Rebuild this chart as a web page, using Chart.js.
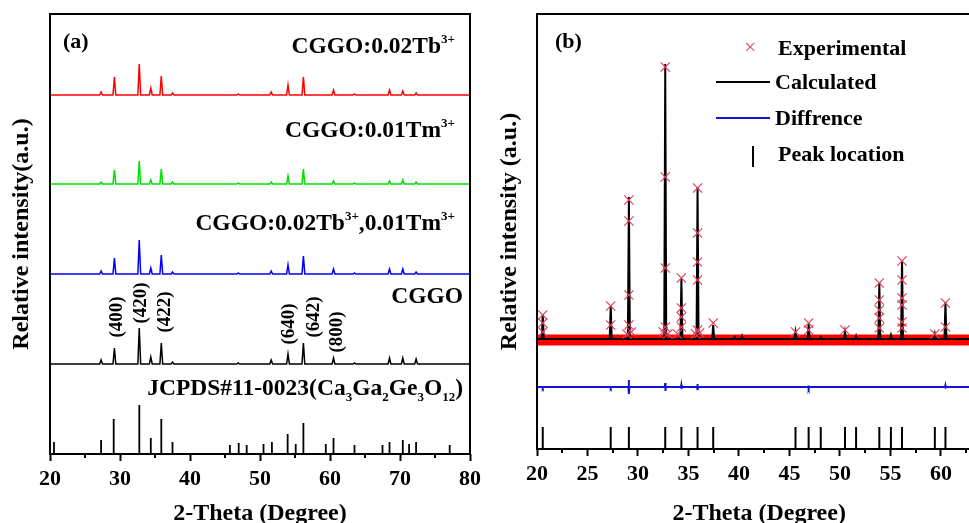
<!DOCTYPE html>
<html>
<head>
<meta charset="utf-8">
<script src="https://cdn.jsdelivr.net/npm/chart.js@4.4.0/dist/chart.umd.min.js"></script>
<style>
html, body { margin: 0; padding: 0; background: #fff; overflow: hidden; }
#wrap { position: relative; width: 969px; height: 523px; overflow: hidden;
        font-family: "Liberation Serif", "Times New Roman", serif; font-weight: bold; color: #000; }
canvas { position: absolute; top: 0; }
#ca { left: 0; }
#cb { left: 485px; }
.t { position: absolute; white-space: nowrap; font-size: 23.5px; line-height: 23px; }
.sp { font-size: 13px; position: relative; top: -10px; }
.sb { font-size: 13px; position: relative; top: 6px; }
.hkl { position: absolute; white-space: nowrap; font-size: 19px; line-height: 19px;
       transform: translate(-50%, -50%) rotate(-90deg); }
.lg { position: absolute; white-space: nowrap; font-size: 22px; line-height: 22px; }
</style>
</head>
<body>
<div id="wrap">
    <canvas id="ca" width="485" height="526"></canvas>
    <canvas id="cb" width="504" height="526"></canvas>

    <div class="t" style="left:63px;top:30px;font-size:22px;line-height:22px">(a)</div>
    <div class="t" style="right:514px;top:34px">CGGO:0.02Tb<span class="sp">3+</span></div>
    <div class="t" style="right:514px;top:118px">CGGO:0.01Tm<span class="sp">3+</span></div>
    <div class="t" style="right:514px;top:211px">CGGO:0.02Tb<span class="sp">3+</span>,0.01Tm<span class="sp">3+</span></div>
    <div class="t" style="right:506px;top:284px">CGGO</div>
    <div class="t" style="right:506px;top:376px">JCPDS#11-0023(Ca<span class="sb">3</span>Ga<span class="sb">2</span>Ge<span class="sb">3</span>O<span class="sb">12</span>)</div>

    <div class="hkl" style="left:115px;top:317px">(400)</div>
    <div class="hkl" style="left:139px;top:303px">(420)</div>
    <div class="hkl" style="left:163px;top:312px">(422)</div>
    <div class="hkl" style="left:287px;top:324px">(640)</div>
    <div class="hkl" style="left:312px;top:317px">(642)</div>
    <div class="hkl" style="left:335px;top:332px">(800)</div>

    <div class="lg" style="left:555px;top:30px">(b)</div>
    <div class="lg" style="left:744px;top:36px;font-weight:normal;color:#d9546a">×</div>
    <div class="lg" style="left:778px;top:37px">Experimental</div>
    <div style="position:absolute;left:716px;top:81px;width:54px;border-top:2px solid #000"></div>
    <div class="lg" style="left:775px;top:71px">Calculated</div>
    <div style="position:absolute;left:716px;top:117px;width:54px;border-top:2px solid #1414d8"></div>
    <div class="lg" style="left:775px;top:107px">Diffrence</div>
    <div style="position:absolute;left:752px;top:146px;width:2px;height:21px;background:#000"></div>
    <div class="lg" style="left:778px;top:143px">Peak location</div>
</div>
<script>
// ---- panel (a): measured patterns, 2-theta peak positions and heights
const peakPos = [20.6, 27.3, 29.2, 32.75, 34.4, 35.9, 37.5, 46.9, 51.6, 54.0, 56.2, 60.5, 63.5, 68.5, 70.4, 72.3];
const tbH     = [0, 3, 18, 31, 7, 19, 2, 1, 3, 10, 18, 5, 1, 5, 4, 2];
const tmH     = [0, 2, 14, 23, 4, 15, 2, 1, 2, 8, 15, 3, 1, 3, 4, 2];
const tbtmH   = [0, 3, 16, 34, 6, 19, 2, 1, 3, 9, 18, 5, 1, 5, 5, 2];
const cggoH   = [0, 4, 16, 36, 7, 21, 2, 1, 4, 10, 21, 6, 1, 6, 6, 5];
const stackBase = [359, 270, 180, 90];   // Tb, Tm, Tb+Tm, CGGO

// JCPDS#11-0023 reference lines
const jcpdsPos = [20.57, 27.3, 29.1, 32.76, 34.4, 35.9, 37.5, 45.7, 46.96, 48.1, 50.5, 51.7, 53.95, 55.1, 56.2, 59.4, 60.5, 63.5, 67.5, 68.5, 70.4, 71.3, 72.3, 77.1];
const jcpdsH   = [12, 14, 35, 49, 16, 35, 12, 9, 11, 9, 10, 12, 20, 10, 31, 10, 16, 9, 9, 12, 14, 10, 12, 9];

const xTicksA = [20, 30, 40, 50, 60, 70, 80];
const minorA  = [25, 35, 45, 55, 65, 75];

// ---- panel (b): Rietveld refinement
const calcPos = [20.57, 27.3, 29.1, 32.7, 34.3, 35.9, 37.45, 39.6, 40.3, 45.6, 46.9, 48.1, 50.5, 51.6, 53.9, 55.05, 56.15, 59.4, 60.45, 63.5];
const calcH   = [25, 33, 142, 275, 60, 152, 14, 2, 3, 7, 15, 2, 7, 3, 57, 4, 79, 5, 37, 5];

const expX = [20.57, 20.57, 20.57, 27.3, 27.3, 28.9, 29.1, 29.1, 29.1, 29.1, 29.35,
              32.5, 32.7, 32.7, 32.7, 32.7, 32.95, 33.9, 34.3, 34.3, 34.3, 34.3,
              35.7, 35.9, 35.9, 35.9, 35.9, 35.9, 36.1, 37.45, 45.6, 46.9, 46.9, 50.5,
              53.9, 53.9, 53.9, 53.9, 53.9, 56.15, 56.15, 56.15, 56.15, 56.15, 56.15, 59.4, 60.45, 60.45];
const expH = [25, 17, 8, 34, 15, 6, 140, 119, 45, 15, 8,
              8, 273, 163, 72, 13, 6, 6, 62, 32, 23, 13,
              6, 152, 107, 78, 60, 10, 7, 17, 8, 17, 10, 10,
              57, 40, 30, 22, 12, 79, 60, 42, 35, 18, 12, 6, 37, 13];

const diffPos = [20.57, 27.3, 29.1, 32.7, 34.3, 35.9, 46.9, 60.45];
const diffAmp = [1, 1, 7, 4, 2, 3, 1.5, 1.5];

const peakLoc = [20.57, 27.3, 29.1, 32.7, 34.3, 35.9, 37.45, 45.6, 46.9, 48.1, 50.5, 51.6, 53.9, 55.05, 56.15, 59.4, 60.45, 63.5];

const expBase = 109, calcBase = 110, diffBase = 62, peakLocH = 22;
const xTicksB = [20, 25, 30, 35, 40, 45, 50, 55, 60];
const minorB  = [22.5, 27.5, 32.5, 37.5, 42.5, 47.5, 52.5, 57.5, 62.5];

const serif = '"Liberation Serif", "Times New Roman", serif';

function profile(pos, h, base, w, x0, x1) {
    const pts = [{x: x0, y: base}];
    pos.forEach((p, i) => {
        if (!h[i]) return;
        pts.push({x: p - w, y: base}, {x: p, y: base + h[i]}, {x: p + w, y: base});
    });
    pts.push({x: x1, y: base});
    return pts;
}

function sticks(pos, h, base) {
    return pos.flatMap((p, i) => [
        {x: p, y: base}, {x: p, y: base + (Array.isArray(h) ? h[i] : h)}, {x: p, y: null}
    ]);
}

function residual(pos, amp, base, x0, x1) {
    const pts = [{x: x0, y: base}];
    pos.forEach((p, i) => pts.push(
        {x: p - 0.05, y: base}, {x: p - 0.01, y: base + amp[i]},
        {x: p + 0.01, y: base - amp[i]}, {x: p + 0.05, y: base}));
    pts.push({x: x1, y: base});
    return pts;
}

// box around the plot area + short minor ticks
const framePlugin = {
    id: 'frame',
    afterDatasetsDraw(chart, args, opts) {
        const {ctx, chartArea: a} = chart;
        const x = chart.scales.x;
        ctx.save();
        ctx.strokeStyle = '#000';
        ctx.lineWidth = 2;
        ctx.strokeRect(a.left, a.top, a.right - a.left, a.bottom - a.top);
        ctx.beginPath();
        (opts.minor || []).forEach(v => {
            const px = Math.round(x.getPixelForValue(v));
            ctx.moveTo(px, a.bottom);
            ctx.lineTo(px, a.bottom + 4);
        });
        ctx.stroke();
        ctx.restore();
    }
};

function makeOptions(o) {
    return {
        responsive: false,
        animation: false,
        layout: {padding: o.pad},
        plugins: {legend: {display: false}, tooltip: {enabled: false}, frame: {minor: o.minor}},
        elements: {point: {radius: 0}, line: {tension: 0}},
        scales: {
            x: {
                type: 'linear', min: o.xmin, max: o.xmax,
                afterBuildTicks: s => { s.ticks = o.ticks.map(v => ({value: v})); },
                afterFit: s => { s.height = o.xh; s.paddingLeft = 0; s.paddingRight = 0; },
                ticks: {color: '#000', padding: 5, maxRotation: 0, autoSkip: false,
                        font: {family: serif, size: 22, weight: 'bold'}},
                grid: {drawOnChartArea: false, tickLength: 7, tickWidth: 2, tickColor: '#000'},
                border: {display: false},
                title: {display: true, text: '2-Theta (Degree)', color: '#000',
                        font: {family: serif, size: 24, weight: 'bold', lineHeight: 1},
                        padding: {top: 0, bottom: 0}}
            },
            y: {
                min: 0, max: o.ymax,
                afterFit: s => { s.width = o.yw; s.paddingTop = 0; s.paddingBottom = 0; },
                ticks: {display: false},
                grid: {display: false},
                border: {display: false},
                title: {display: true, text: o.ytitle, color: '#000',
                        font: {family: serif, size: 24, weight: 'bold', lineHeight: 1},
                        padding: {top: o.ytp, bottom: 0}}
            }
        }
    };
}

const line = (data, color, width, extra) => Object.assign(
    {data, borderColor: color, borderWidth: width, pointRadius: 0, fill: false}, extra || {});

new Chart(document.getElementById('ca'), {
    type: 'line',
    data: {
        datasets: [
            line(profile(peakPos, tbH, stackBase[0], 0.2, 20, 80), '#ff0000', 1.5),
            line(profile(peakPos, tmH, stackBase[1], 0.2, 20, 80), '#00e000', 1.5),
            line(profile(peakPos, tbtmH, stackBase[2], 0.2, 20, 80), '#0000ff', 1.5),
            line(profile(peakPos, cggoH, stackBase[3], 0.2, 20, 80), '#000000', 1.5),
            line(sticks(jcpdsPos, jcpdsH, 0), '#000000', 1.8)
        ]
    },
    options: makeOptions({
        pad: {left: 0, top: 14, right: 15, bottom: 0},
        xmin: 20, xmax: 80, ticks: xTicksA, minor: minorA,
        xh: 72, yw: 50, ymax: 440, ytp: 10,
        ytitle: 'Relative intensity(a.u.)'
    }),
    plugins: [framePlugin]
});

new Chart(document.getElementById('cb'), {
    type: 'line',
    data: {
        datasets: [
            line(expX.map((x, i) => ({x, y: expBase + expH[i]})), '#e0405a', 1.2,
                 {showLine: false, pointStyle: 'crossRot', pointRadius: 6.5, pointBorderWidth: 1.2, order: 0}),
            line(profile(calcPos, calcH, calcBase, 0.1, 20, 64), '#000000', 2, {order: 1}),
            line([{x: 20, y: expBase}, {x: 64, y: expBase}], '#ff0000', 11, {order: 3}),
            line(residual(diffPos, diffAmp, diffBase, 20, 64), '#1414d8', 2, {order: 1}),
            line(sticks(peakLoc, peakLocH, 0), '#000000', 2, {order: 1})
        ]
    },
    options: makeOptions({
        pad: {left: 0, top: 14, right: 0, bottom: 0},
        xmin: 20, xmax: 64, ticks: xTicksB, minor: minorB,
        xh: 77, yw: 52, ymax: 435, ytp: 13,
        ytitle: 'Relative intensity (a.u.)'
    }),
    plugins: [framePlugin]
});
</script>
</body>
</html>
